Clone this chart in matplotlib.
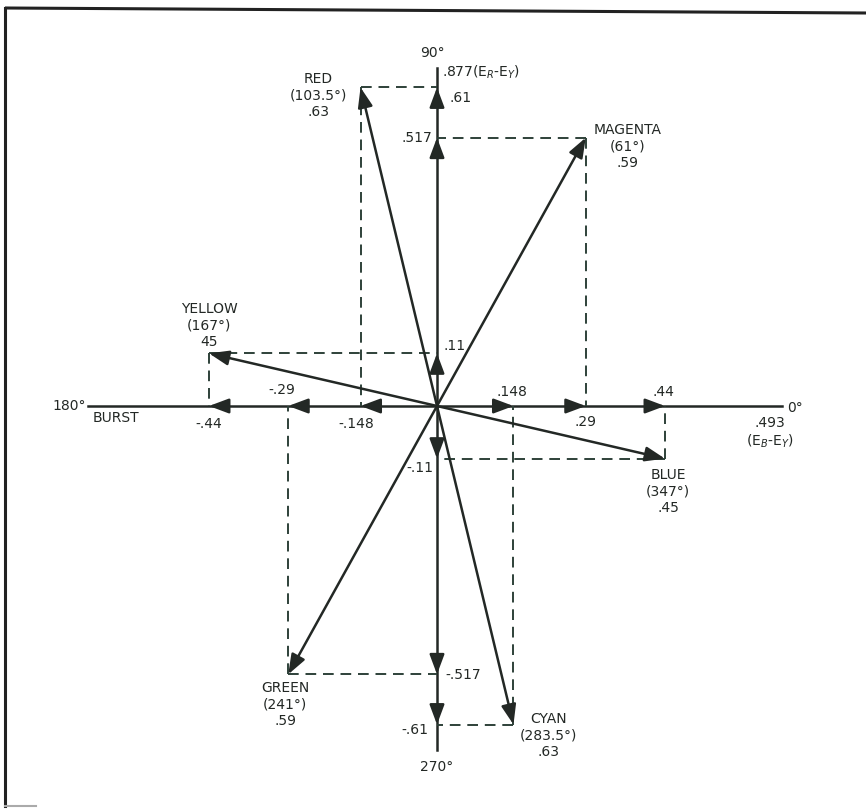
import numpy as np
import matplotlib.pyplot as plt

# vector diagram: colour phasors on (E_B-E_Y) / (E_R-E_Y) axes
names = ["RED", "MAGENTA", "YELLOW", "BLUE", "GREEN", "CYAN"]
angles = [103.5, 61, 167, 347, 241, 283.5]
mags = [0.63, 0.59, 0.45, 0.45, 0.59, 0.63]
angle_labels = ["(103.5°)", "(61°)", "(167°)", "(347°)", "(241°)", "(283.5°)"]
mag_labels = [".63", ".59", "45", ".45", ".59", ".63"]
x_comp_labels = ["-.148", ".29", "-.44", ".44", "-.29", ".148"]
y_comp_labels = [".61", ".517", ".11", "-.11", "-.517", "-.61"]

W, H = 866, 809
OX, OY, S = 437, 406, 520   # origin in pixels, pixels per unit
INK = "#232825"
DASH = "#2e4139"

def px(x, y):
    return (x - OX) / S, (OY - y) / S

fig = plt.figure(figsize=(W / 100, H / 100), dpi=100)
ax = fig.add_axes([0, 0, 1, 1])
ax.set_xlim(px(0, 0)[0], px(W, 0)[0])
ax.set_ylim(px(0, H)[1], px(0, 0)[1])
ax.axis("off")

# frame pieces
ax.plot(*zip(px(5, 8), px(866, 13)), color="#222", lw=2.2, solid_capstyle="butt")
ax.plot(*zip(px(5, 8), px(5, 806)), color="#222", lw=2.2)
ax.plot(*zip(px(5, 806), px(36, 806)), color="#aaa", lw=1.5)

# axes
ax.plot([px(88, 0)[0], px(782, 0)[0]], [0, 0], color=INK, lw=1.8)
ax.plot([0, 0], [px(0, 750)[1], px(0, 68)[1]], color=INK, lw=1.8)

head = dict(arrowstyle="-|>,head_length=0.75,head_width=0.28", color=INK,
            lw=1.8, shrinkA=0, shrinkB=0, mutation_scale=16)

tips_x = [m * np.cos(np.radians(a)) for m, a in zip(mags, angles)]
tips_y = [m * np.sin(np.radians(a)) for m, a in zip(mags, angles)]

dash = dict(color=DASH, lw=1.4, linestyle=(0, (5.5, 3.5)))
for tx, ty in zip(tips_x, tips_y):
    ax.plot([tx, 0], [ty, ty], **dash)
    ax.plot([tx, tx], [ty, 0], **dash)

# vectors
for tx, ty in zip(tips_x, tips_y):
    ax.annotate("", xy=(tx, ty), xytext=(0, 0), arrowprops=head)

# arrowheads on the axes at each component
eps = 0.02
for tx, ty in zip(tips_x, tips_y):
    ax.annotate("", xy=(tx, 0), xytext=(tx - np.sign(tx) * eps, 0), arrowprops=head)
    ax.annotate("", xy=(0, ty), xytext=(0, ty - np.sign(ty) * eps), arrowprops=head)

FS = 10
def lab(text, xy, dx, dy, ha="center", va="center", color=INK):
    ax.annotate(text, xy=xy, xytext=(dx * 0.72, -dy * 0.72),
                textcoords="offset points", ha=ha, va=va, fontsize=FS,
                color=color, multialignment="center", linespacing=1.22)

name_off = [(-42, 8), (42, 9), (0, -28), (3, 33), (-3, 30), (35, 11)]
xlab_off = [(-4, 18), (0, 16), (0, 18), (-2, -14), (-6, -16), (-2, -14)]
ylab_off = [(12, 11, "left"), (-5, 0, "right"), (6, -7, "left"),
            (-4, 9, "right"), (8, 1, "left"), (-9, 5, "right")]

for i in range(len(names)):
    block = f"{names[i]}\n{angle_labels[i]}\n{mag_labels[i]}"
    lab(block, (tips_x[i], tips_y[i]), *name_off[i])
    lab(x_comp_labels[i], (tips_x[i], 0), *xlab_off[i])
    dx, dy, ha = ylab_off[i]
    lab(y_comp_labels[i], (0, tips_y[i]), dx, dy, ha=ha)

# axis end labels
def ptext(x, y, s, ha="center"):
    ax.text(*px(x, y), s, ha=ha, va="center", fontsize=FS, color=INK)

ptext(432, 53, "90°")
ptext(442, 72, r".877(E$_R$-E$_Y$)", ha="left")
ptext(86, 406, "180°", ha="right")
ptext(93, 418, "BURST", ha="left")
ptext(787, 408, "0°", ha="left")
ptext(770, 423, ".493")
ptext(770, 441, r"(E$_B$-E$_Y$)")
ptext(437, 767, "270°")

fig.savefig("out.png", dpi=100)
